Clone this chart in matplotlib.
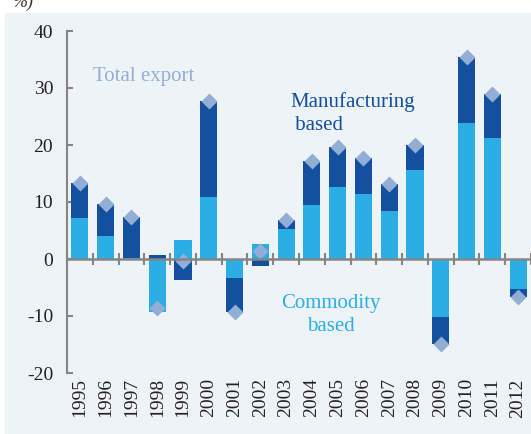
import matplotlib.pyplot as plt
import matplotlib.transforms as mtransforms
from matplotlib.patches import Rectangle
import numpy as np

# data (% growth contributions)
years = ['1995', '1996', '1997', '1998', '1999', '2000', '2001', '2002', '2003',
         '2004', '2005', '2006', '2007', '2008', '2009', '2010', '2011', '2012']
commodity = [7.2, 4.0, 0.1, -9.3, 3.3, 10.9, -3.3, 2.6, 5.3,
             9.5, 12.6, 11.4, 8.4, 15.6, -10.2, 23.9, 21.2, -5.3]
manufacturing = [6.1, 5.6, 7.2, 0.7, -3.7, 16.8, -6.0, -1.2, 1.5,
                 7.7, 7.1, 6.3, 4.8, 4.4, -4.7, 11.5, 7.7, -1.4]
total = [c + m for c, m in zip(commodity, manufacturing)]

light = '#2aaee4'
dark = '#13509f'
diamond = '#93aed5'
panel = '#eef3f8'
axis_grey = '#858585'

plt.rcParams['font.family'] = ['Liberation Serif', 'DejaVu Serif']
plt.rcParams['axes.unicode_minus'] = False

fig = plt.figure(figsize=(5.31, 4.34), dpi=100)
fig.patches.append(Rectangle((5 / 531, 0), 1, 1 - 13 / 434, transform=fig.transFigure,
                             facecolor=panel, edgecolor='none', zorder=-10))
# unit label, cut at the top edge as in the source
fig.text(0.025, 0.995, '%)', fontsize=13, style='italic', color='#333333', va='center')

ax = fig.add_axes([67 / 531, 61 / 434, 1 - 67 / 531, 342 / 434])
ax.set_facecolor('none')

x = np.arange(len(years))
w = 0.66
ax.bar(x, commodity, width=w, color=light, zorder=2)
man_bottom = [c if (c >= 0) == (m >= 0) else 0 for c, m in zip(commodity, manufacturing)]
ax.bar(x, manufacturing, width=w, bottom=man_bottom, color=dark, zorder=2)
ax.plot(x, total, linestyle='none', marker='D', markersize=8, color=diamond,
        markeredgecolor='none', zorder=3)

ax.set_xlim(-0.5, -0.5 + 464 / 25.9)
ax.set_ylim(-20, 40)

for s in ['top', 'right']:
    ax.spines[s].set_visible(False)
ax.spines['left'].set_color(axis_grey)
ax.spines['left'].set_linewidth(1.5)
ax.spines['left'].set_bounds(-20, 40)
ax.spines['bottom'].set_position(('data', 0))
ax.spines['bottom'].set_color(axis_grey)
ax.spines['bottom'].set_linewidth(1.8)
ax.spines['bottom'].set_zorder(4)

ax.set_yticks([-20, -10, 0, 10, 20, 30, 40])
ax.tick_params(axis='y', direction='in', length=4, width=1.5, color=axis_grey,
               labelsize=14, labelcolor='#222222', pad=10)
ax.set_xticks(np.arange(len(years) + 1) - 0.5)
ax.set_xticklabels([])
ax.tick_params(axis='x', direction='inout', length=8, width=1.5, color=axis_grey)

trans = mtransforms.blended_transform_factory(ax.transData, ax.transAxes)
for i, yr in enumerate(years):
    ax.text(i, -0.015, yr, rotation=90, ha='center', va='top', fontsize=14,
            color='#222222', transform=trans)

ax.text(0.5, 32.0, 'Total export', fontsize=15, color=diamond, ha='left', va='center')
ax.text(8.15, 25.5, 'Manufacturing\n based', fontsize=15, color=dark, ha='left',
        va='center', linespacing=1.3)
ax.text(9.75, -9.8, 'Commodity\nbased', fontsize=15, color=light, ha='center',
        va='center', linespacing=1.25)

fig.savefig('out.png', dpi=100)
